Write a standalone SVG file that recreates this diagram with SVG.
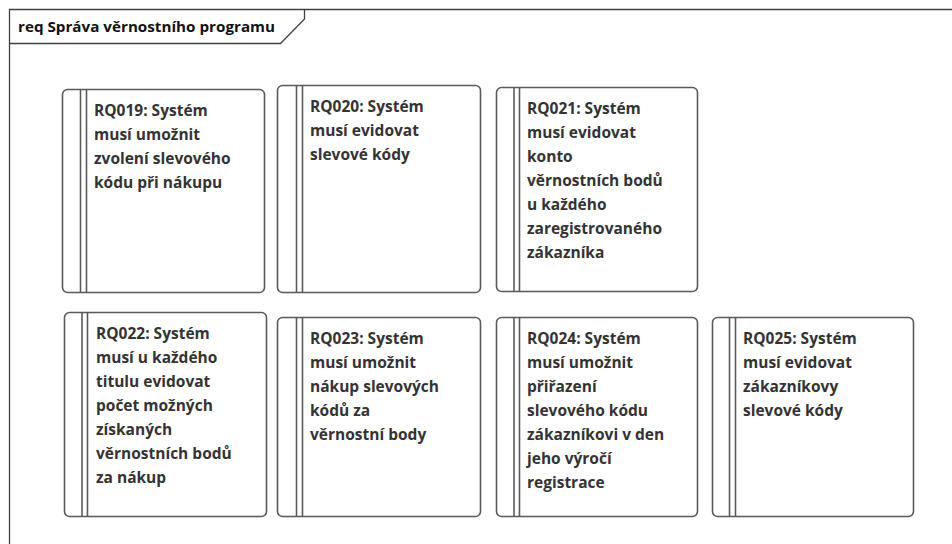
<svg xmlns="http://www.w3.org/2000/svg" width="952" height="544" viewBox="0 0 952 544">
<style>
.frame{fill:none;stroke:#404040;stroke-width:1.3}
.box{fill:#ffffff;stroke:#5a5a5a;stroke-width:1.6}
.bar{stroke:#5a5a5a;stroke-width:1.6}
.t{font-family:"Open Sans","Liberation Sans",sans-serif;font-weight:700;font-size:15.5px;fill:#333333}
.title{font-family:"Open Sans","Liberation Sans",sans-serif;font-weight:700;font-size:15px;fill:#111111}
</style>
<rect width="952" height="544" fill="#ffffff"/>
<g id="frame">
<path class="frame" d="M9.5,560 L9.5,9.5 L960,9.5"/>
<path class="frame" d="M9.5,43.5 L280.5,43.5 L304.5,19 L304.5,9.5"/>
<text class="title" x="18" y="32" textLength="257" lengthAdjust="spacingAndGlyphs">req Správa věrnostního programu</text>
</g>
<g id="connectors"></g>
<g id="RQ019">
<rect class="box" x="62.5" y="89.5" width="202" height="203" rx="5"/>
<line class="bar" x1="80.5" y1="90" x2="80.5" y2="292"/>
<line class="bar" x1="86.5" y1="90" x2="86.5" y2="292"/>
<text class="t" x="94" y="116"><tspan x="94">RQ019: Systém</tspan><tspan x="94" dy="24">musí umožnit</tspan><tspan x="94" dy="24">zvolení slevového</tspan><tspan x="94" dy="24">kódu při nákupu</tspan></text>
</g>
<g id="RQ020">
<rect class="box" x="277.5" y="85.5" width="203" height="207" rx="5"/>
<line class="bar" x1="296.5" y1="86" x2="296.5" y2="292"/>
<line class="bar" x1="302.5" y1="86" x2="302.5" y2="292"/>
<text class="t" x="310" y="112"><tspan x="310">RQ020: Systém</tspan><tspan x="310" dy="24">musí evidovat</tspan><tspan x="310" dy="24">slevové kódy</tspan></text>
</g>
<g id="RQ021">
<rect class="box" x="496.5" y="87.5" width="201" height="204" rx="5"/>
<line class="bar" x1="514" y1="88" x2="514" y2="291"/>
<line class="bar" x1="519.5" y1="88" x2="519.5" y2="291"/>
<text class="t" x="527" y="114"><tspan x="527">RQ021: Systém</tspan><tspan x="527" dy="24">musí evidovat</tspan><tspan x="527" dy="24">konto</tspan><tspan x="527" dy="24">věrnostních bodů</tspan><tspan x="527" dy="24">u každého</tspan><tspan x="527" dy="24">zaregistrovaného</tspan><tspan x="527" dy="24">zákazníka</tspan></text>
</g>
<g id="RQ022">
<rect class="box" x="64.5" y="312.5" width="202" height="204" rx="5"/>
<line class="bar" x1="82" y1="313" x2="82" y2="516"/>
<line class="bar" x1="87.5" y1="313" x2="87.5" y2="516"/>
<text class="t" x="96" y="339"><tspan x="96">RQ022: Systém</tspan><tspan x="96" dy="24">musí u každého</tspan><tspan x="96" dy="24">titulu evidovat</tspan><tspan x="96" dy="24">počet možných</tspan><tspan x="96" dy="24">získaných</tspan><tspan x="96" dy="24">věrnostních bodů</tspan><tspan x="96" dy="24">za nákup</tspan></text>
</g>
<g id="RQ023">
<rect class="box" x="277.5" y="317.5" width="203" height="199" rx="5"/>
<line class="bar" x1="296.5" y1="318" x2="296.5" y2="516"/>
<line class="bar" x1="302.5" y1="318" x2="302.5" y2="516"/>
<text class="t" x="310" y="344"><tspan x="310">RQ023: Systém</tspan><tspan x="310" dy="24">musí umožnit</tspan><tspan x="310" dy="24">nákup slevových</tspan><tspan x="310" dy="24">kódů za</tspan><tspan x="310" dy="24">věrnostní body</tspan></text>
</g>
<g id="RQ024">
<rect class="box" x="496.5" y="317.5" width="201" height="199" rx="5"/>
<line class="bar" x1="514" y1="318" x2="514" y2="516"/>
<line class="bar" x1="519.5" y1="318" x2="519.5" y2="516"/>
<text class="t" x="527" y="344"><tspan x="527">RQ024: Systém</tspan><tspan x="527" dy="24">musí umožnit</tspan><tspan x="527" dy="24">přiřazení</tspan><tspan x="527" dy="24">slevového kódu</tspan><tspan x="527" dy="24">zákazníkovi v den</tspan><tspan x="527" dy="24">jeho výročí</tspan><tspan x="527" dy="24">registrace</tspan></text>
</g>
<g id="RQ025">
<rect class="box" x="712.5" y="317.5" width="201" height="199" rx="5"/>
<line class="bar" x1="729.5" y1="318" x2="729.5" y2="516"/>
<line class="bar" x1="735.5" y1="318" x2="735.5" y2="516"/>
<text class="t" x="743" y="344"><tspan x="743">RQ025: Systém</tspan><tspan x="743" dy="24">musí evidovat</tspan><tspan x="743" dy="24">zákazníkovy</tspan><tspan x="743" dy="24">slevové kódy</tspan></text>
</g>
</svg>
